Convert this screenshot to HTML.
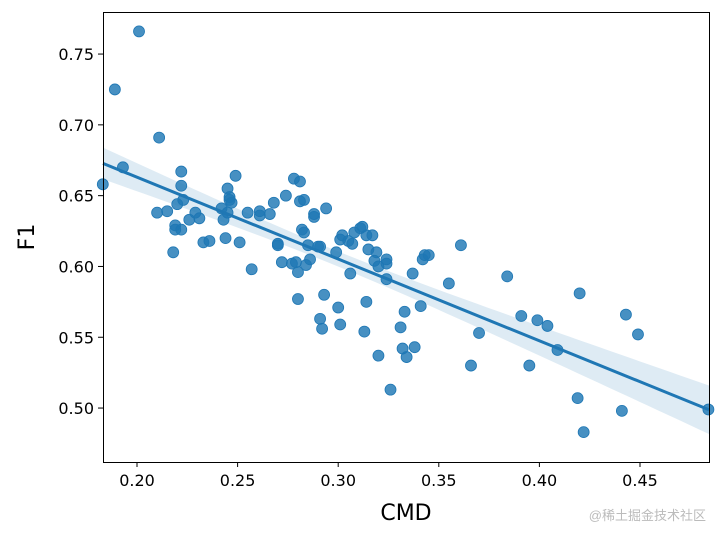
<!DOCTYPE html>
<html><head><meta charset="utf-8"><style>
html,body{margin:0;padding:0;background:#fff;}
svg{display:block;font-family:"DejaVu Sans","Liberation Sans",sans-serif;}
</style></head><body>
<svg id="chart" width="720" height="538">
<g id="band"></g>
<g id="pts"></g>
<g id="reg"></g>
<rect x="103.5" y="12.5" width="606" height="450" fill="none" stroke="#000" stroke-width="1"/>
<g id="xt"></g>
<g id="yt"></g>
<text x="406" y="520" font-size="22" text-anchor="middle">CMD</text>
<text x="34" y="237" font-size="22" text-anchor="middle" transform="rotate(-90 34 237)">F1</text>
<text x="706" y="520" font-size="13" fill="#bbb" text-anchor="end" font-family="'Liberation Sans','Noto Sans CJK SC',sans-serif">@稀土掘金技术社区</text>
</svg>
<script>
const xs=[0.183,0.189,0.193,0.201,0.211,0.210,0.215,0.219,0.219,0.220,0.222,0.222,0.223,0.218,0.222,0.226,0.229,0.233,0.231,0.236,0.242,0.243,0.244,0.245,0.246,0.246,0.245,0.247,0.249,0.251,0.255,0.257,0.261,0.261,0.266,0.268,0.270,0.270,0.272,0.274,0.277,0.278,0.279,0.281,0.281,0.280,0.280,0.282,0.283,0.283,0.284,0.285,0.286,0.290,0.291,0.294,0.288,0.288,0.293,0.292,0.300,0.301,0.291,0.301,0.299,0.302,0.305,0.308,0.306,0.307,0.311,0.313,0.314,0.314,0.312,0.315,0.317,0.319,0.320,0.318,0.320,0.324,0.324,0.324,0.331,0.326,0.332,0.333,0.337,0.341,0.338,0.334,0.342,0.343,0.345,0.355,0.361,0.366,0.370,0.384,0.391,0.395,0.399,0.404,0.409,0.420,0.419,0.422,0.441,0.443,0.449,0.484];
const ys=[0.658,0.725,0.670,0.766,0.691,0.638,0.639,0.629,0.626,0.644,0.667,0.657,0.647,0.610,0.626,0.633,0.638,0.617,0.634,0.618,0.641,0.633,0.620,0.655,0.647,0.649,0.638,0.645,0.664,0.617,0.638,0.598,0.636,0.639,0.637,0.645,0.616,0.615,0.603,0.650,0.602,0.662,0.603,0.660,0.646,0.596,0.577,0.626,0.647,0.624,0.601,0.615,0.605,0.614,0.614,0.641,0.635,0.637,0.580,0.556,0.571,0.559,0.563,0.619,0.610,0.622,0.618,0.624,0.595,0.616,0.627,0.554,0.622,0.575,0.628,0.612,0.622,0.610,0.537,0.604,0.600,0.602,0.605,0.591,0.557,0.513,0.542,0.568,0.595,0.572,0.543,0.536,0.605,0.608,0.608,0.588,0.615,0.530,0.553,0.593,0.565,0.530,0.562,0.558,0.541,0.581,0.507,0.483,0.498,0.566,0.552,0.499];
const xTicks=[0.20,0.25,0.30,0.35,0.40,0.45];
const yTicks=[0.50,0.55,0.60,0.65,0.70,0.75];
const X0=0.1831,X1=0.4843,Y0=0.4619,Y1=0.7797,L=103,R=709,T=12,B=462;
const sx=v=>L+(v-X0)/(X1-X0)*(R-L), sy=v=>B-(v-Y0)/(Y1-Y0)*(B-T);
const NS="http://www.w3.org/2000/svg";
function mk(t,a,p){const e=document.createElementNS(NS,t);for(const k in a)e.setAttribute(k,a[k]);p.appendChild(e);return e;}
const pts=document.getElementById('pts');
xs.forEach((x,i)=>{const c=mk('circle',{cx:sx(x),cy:sy(ys[i]),r:5.5,fill:'#1f77b4','fill-opacity':0.82,stroke:'#1f77b4','stroke-width':0.8},pts);

});
const n=xs.length,mx=xs.reduce((a,b)=>a+b)/n,my=ys.reduce((a,b)=>a+b)/n;
let sxx=0,sxy=0;xs.forEach((x,i)=>{sxx+=(x-mx)**2;sxy+=(x-mx)*(ys[i]-my);});
const b=sxy/sxx,a=my-b*mx;let sse=0;xs.forEach((x,i)=>{sse+=(ys[i]-a-b*x)**2;});
const s=Math.sqrt(sse/(n-2));
let up=[],lo=[];
for(let k=0;k<=60;k++){const x=X0+(X1-X0)*k/60,yh=a+b*x,se=1.98*s*Math.sqrt(1/n+(x-mx)**2/sxx);up.push(sx(x)+','+sy(yh+se));lo.unshift(sx(x)+','+sy(yh-se));}
const band=mk('polygon',{points:up.concat(lo).join(' '),fill:'#1f77b4','fill-opacity':0.15},document.getElementById('band'));


const ln=mk('line',{x1:sx(X0),y1:sy(a+b*X0),x2:sx(X1),y2:sy(a+b*X1),stroke:'#1f77b4','stroke-width':3},document.getElementById('reg'));


const xt=document.getElementById('xt');
xTicks.forEach(v=>{const x=sx(v);mk('line',{x1:x,y1:B,x2:x,y2:B+5,stroke:'#000'},xt);
const t=mk('text',{x:x,y:B+24,'font-size':16,'text-anchor':'middle'},xt);t.textContent=v.toFixed(2);

});
const yt=document.getElementById('yt');
yTicks.forEach(v=>{const y=sy(v);mk('line',{x1:L-5,y1:y,x2:L,y2:y,stroke:'#000'},yt);
const t=mk('text',{x:L-9,y:y+6,'font-size':16,'text-anchor':'end'},yt);t.textContent=v.toFixed(2);

});
</script>
</body></html>
